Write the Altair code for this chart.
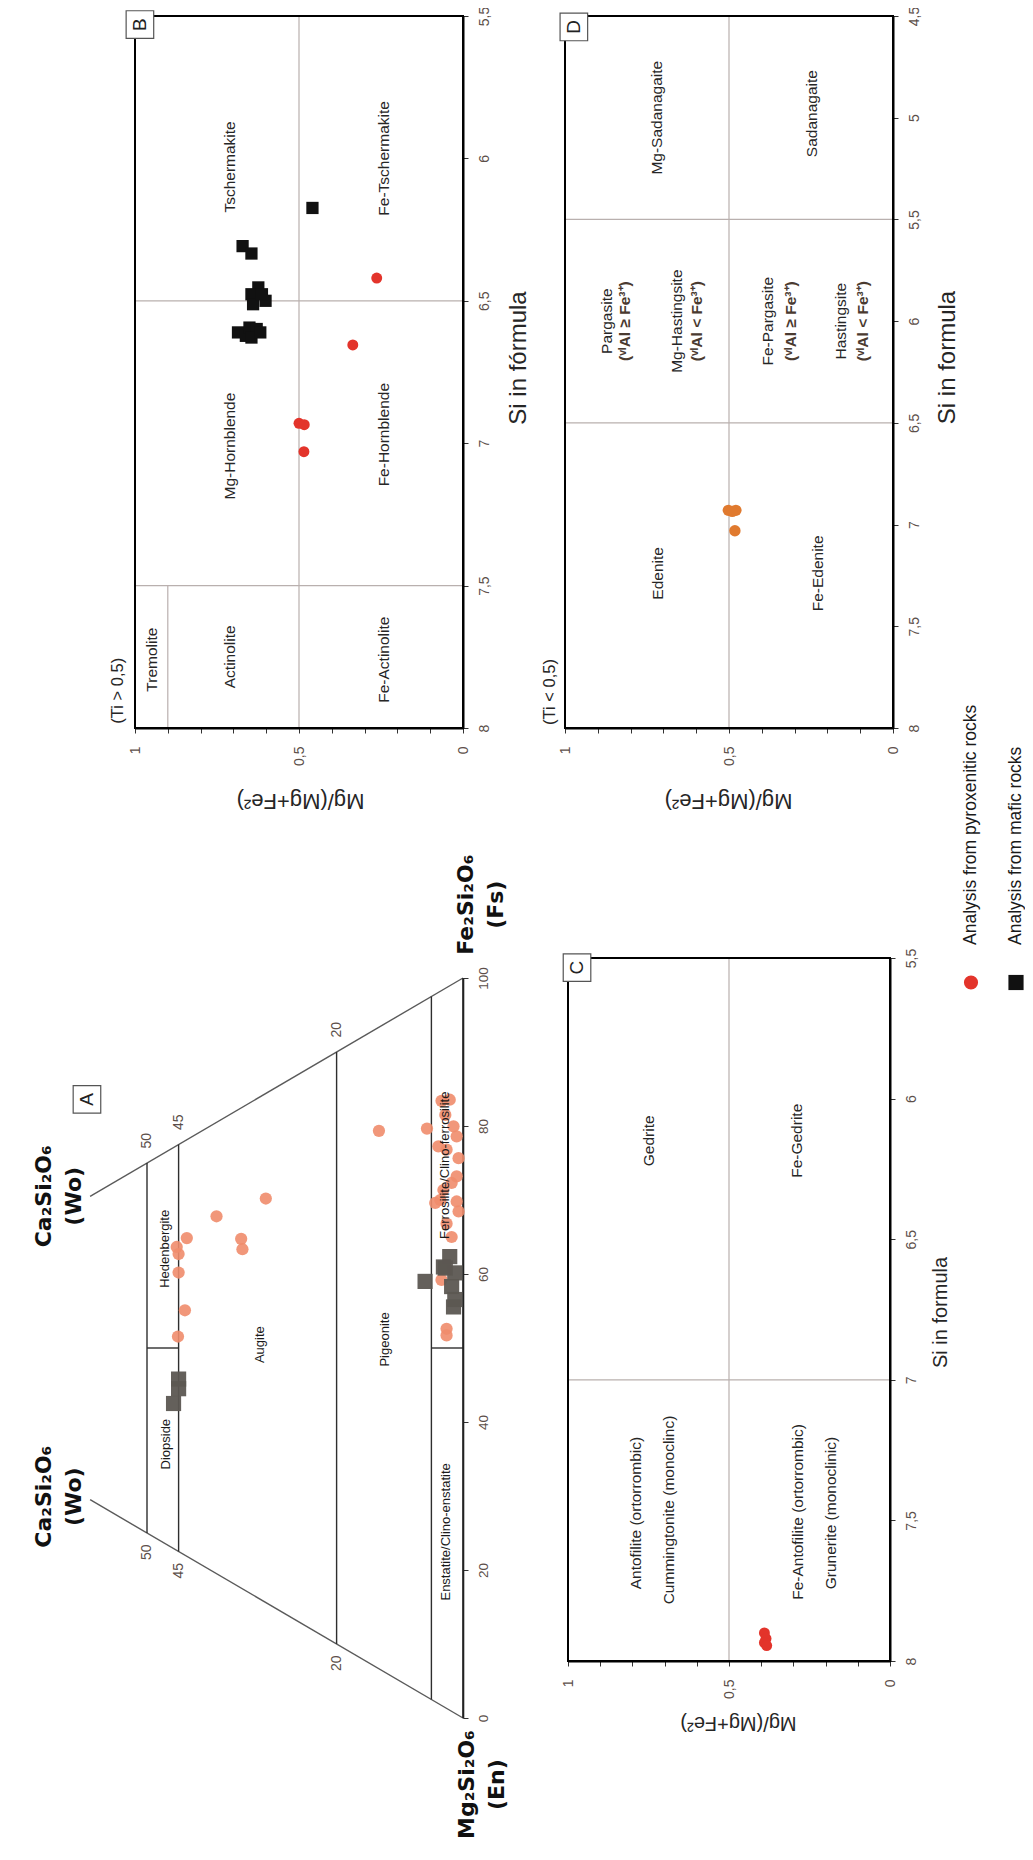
import altair as alt
import pandas as pd

W, H = 1017, 1836
FONT = "Liberation Sans"
INK = "#262626"
TICK_INK = "#5c4f4a"
GRID = "#b9b0ae"
RED = "#e3342b"
BLACK = "#111111"
SALMON = "#f08c6c"
GREY_SQ = "#5c5752"
ORANGE = "#e07a2f"

MG_TICKS = [0, 0.1, 0.2, 0.3, 0.4, 0.5, 0.6, 0.7, 0.8, 0.9, 1]

# ---------------- Panel B (Ti > 0,5) ----------------
b_si_ticks = [5.5, 6, 6.5, 7, 7.5, 8]
b_maf_mg = [0.459, 0.672, 0.645, 0.624, 0.645, 0.602, 0.640, 0.613, 0.686, 0.662, 0.651, 0.629, 0.645, 0.618]
b_maf_si = [6.174, 6.308, 6.334, 6.453, 6.477, 6.500, 6.512, 6.477, 6.611, 6.623, 6.594, 6.599, 6.629, 6.611]
b_pyr_mg = [0.263, 0.336, 0.50, 0.484, 0.485]
b_pyr_si = [6.42, 6.655, 6.93, 6.935, 7.03]
b_line_mg1 = [0.5, 1, 1, 0.9]
b_line_mg2 = [0.5, 0, 0, 0.9]
b_line_si1 = [5.5, 6.5, 7.5, 7.5]
b_line_si2 = [8, 6.5, 7.5, 8]
b_names = ["Tschermakite", "Fe-Tschermakite", "Mg-Hornblende", "Fe-Hornblende",
           "Tremolite", "Actinolite", "Fe-Actinolite"]
b_name_mg = [0.71, 0.24, 0.71, 0.24, 0.949, 0.71, 0.24]
b_name_si = [6.03, 6.00, 7.01, 6.97, 7.76, 7.75, 7.76]

# ---------------- Panel D (Ti < 0,5) ----------------
d_si_ticks = [4.5, 5, 5.5, 6, 6.5, 7, 7.5, 8]
d_pyr_mg = [0.502, 0.479, 0.490, 0.482]
d_pyr_si = [6.93, 6.93, 6.935, 7.03]
d_line_mg1 = [0.5, 1, 1]
d_line_mg2 = [0.5, 0, 0]
d_line_si1 = [4.5, 5.5, 6.5]
d_line_si2 = [8, 5.5, 6.5]
d_names = ["Mg-Sadanagaite", "Sadanagaite", "Pargasite", "Mg-Hastingsite",
           "Fe-Pargasite", "Hastingsite", "Edenite", "Fe-Edenite"]
d_name_mg = [0.72, 0.247, 0.873, 0.659, 0.380, 0.159, 0.716, 0.229]
d_name_si = [5.00, 4.98, 6.00, 6.00, 6.00, 6.00, 7.24, 7.24]
d_cond = ["(ᵛᴵAl ≥ Fe³⁺)", "(ᵛᴵAl < Fe³⁺)", "(ᵛᴵAl ≥ Fe³⁺)", "(ᵛᴵAl < Fe³⁺)"]
d_cond_mg = [0.817, 0.598, 0.312, 0.091]
d_cond_si = [6.00, 6.00, 6.00, 6.00]

# ---------------- Panel C ----------------
c_si_ticks = [5.5, 6, 6.5, 7, 7.5, 8]
c_pyr_mg = [0.390, 0.385, 0.390, 0.383]
c_pyr_si = [7.90, 7.92, 7.935, 7.945]
c_line_mg1 = [0.5, 1]
c_line_mg2 = [0.5, 0]
c_line_si1 = [5.5, 7]
c_line_si2 = [8, 7]
c_names = ["Gedrite", "Fe-Gedrite", "Antofilite (ortorrombic)", "Cummingtonite (monoclinc)",
           "Fe-Antofilite (ortorrombic)", "Grunerite (monoclinic)"]
c_name_mg = [0.748, 0.289, 0.789, 0.686, 0.286, 0.183]
c_name_si = [6.15, 6.15, 7.474, 7.463, 7.47, 7.474]

# ---------------- Panel A (pyroxene quadrilateral, Wo-En-Fs %) ----------------
a_pyr_wo = [31.2, 39.0, 35.1, 34.9, 43.7, 45.3, 45.0, 45.0, 44.0, 45.1, 13.3, 5.7, 3.4, 2.1, 2.8, 1.5,
            1.0, 3.9, 2.6, 0.7, 1.8, 3.1, 3.6, 1.0, 0.7, 2.6, 1.8, 3.4, 2.6, 2.6, 1.0, 4.4]
a_pyr_fs = [54.6, 48.3, 47.2, 45.9, 43.0, 41.0, 40.2, 37.7, 33.1, 29.0, 72.7, 76.8, 81.7, 82.5, 80.1, 79.2,
            78.1, 75.3, 75.5, 75.3, 71.4, 69.8, 68.2, 69.3, 68.1, 65.5, 64.1, 57.5, 51.3, 50.4, 72.7, 67.4]
a_maf_wo = [45.0, 45.0, 45.8, 6.0, 2.1, 2.8, 1.3, 1.8, 1.3, 1.5, 3.1]
a_maf_fs = [23.3, 22.0, 19.6, 56.0, 61.3, 59.4, 59.5, 57.4, 55.9, 54.8, 59.4]
a_fs_ticks = [0, 20, 40, 60, 80, 100]
a_edge_wo1 = [0, 0]
a_edge_fs1 = [0, 100]
a_edge_wo2 = [59, 59]
a_edge_fs2 = [0, 41]
a_tie_wo1 = [50, 45, 20, 5, 45, 0]
a_tie_fs1 = [0, 0, 0, 0, 27.5, 50]
a_tie_wo2 = [50, 45, 20, 5, 50, 5]
a_tie_fs2 = [50, 55, 80, 95, 25, 47.5]
a_wo_marks = [50, 45, 20, 50, 45, 20]
a_wo_side = [0, 0, 0, 1, 1, 1]
a_names = ["Hedenbergite", "Diopside", "Augite", "Pigeonite",
           "Enstatite/Clino-enstatite", "Ferrosilite/Clino-ferrosilite"]
a_name_wo = [47.2, 47.0, 32.1, 12.3, 2.7, 2.8]
a_name_fs = [39.8, 13.5, 34.4, 45.0, 23.8, 73.3]
a_corner = ["Ca₂Si₂O₆\n(Wo)", "Ca₂Si₂O₆\n(Wo)", "Mg₂Si₂O₆\n(En)", "Fe₂Si₂O₆\n(Fs)"]
a_corner_wo = [66.3, 66.3, -0.6, -0.5]
a_corner_u = [70.5, 29.9, -9.0, 109.9]

# ---------------- Panel letters & legend ----------------
legend_text = ["Analysis from pyroxenitic rocks", "Analysis from mafic rocks"]
legend_pos = [0, 1]


def lin(domain, rng):
    return alt.Scale(domain=domain, range=rng, zero=False, nice=False)


# pixel ranges of each panel inside the chart area
BX, BY = lin([0, 1], [455, 127]), lin([5.5, 8], [8, 720])
DX, DY = lin([0, 1], [885, 557]), lin([4.5, 8], [8, 720])
CX, CY = lin([0, 1], [882, 560]), lin([5.5, 8], [950, 1653])
AX, AY = lin([0, 100], [455, -177]), lin([0, 100], [1710, 970])
LX, LY = lin([0, 1], [963, 1008]), lin([0, 1], [974.5, 937])


def mg_axis(offset, tx, ty, tsize):
    return alt.Axis(
        orient="bottom", offset=offset, values=MG_TICKS, grid=False,
        labelExpr="datum.value == 0 ? '0' : abs(datum.value - 0.5) < 0.001 ? '0,5' : abs(datum.value - 1) < 0.001 ? '1' : ''",
        labelAngle=270, labelAlign="right", labelBaseline="middle", labelPadding=13,
        labelFont=FONT, labelFontSize=14, labelColor=TICK_INK, labelOverlap=False, labelFlush=False,
        tickSize=5, tickColor="#333333", tickWidth=1, domainColor="black", domainWidth=2,
        title="Mg/(Mg+Fe²)", titleAngle=180, titleX=tx, titleY=ty, titleAlign="center",
        titleBaseline="middle", titleFont=FONT, titleFontSize=tsize, titleFontWeight="normal",
        titleColor=INK)


def si_axis(values, offset, title, tx, ty, tsize):
    return alt.Axis(
        orient="right", offset=offset, values=values, grid=False,
        labelExpr="replace(format(datum.value, '.1~f'), '.', ',')",
        labelAngle=270, labelAlign="center", labelBaseline="top", labelPadding=9,
        labelFont=FONT, labelFontSize=14, labelColor=TICK_INK, labelOverlap=False, labelFlush=False,
        tickSize=5, tickColor="#333333", tickWidth=1, domainColor="black", domainWidth=2,
        title=title, titleAngle=270, titleX=tx, titleY=ty, titleAlign="center",
        titleBaseline="middle", titleFont=FONT, titleFontSize=tsize, titleFontWeight="normal",
        titleColor=INK)


def rules(df, sx, sy, color, width):
    return alt.Chart(df).mark_rule(color=color, strokeWidth=width).encode(
        x=alt.X("x1:Q", scale=sx, axis=None), x2="x2:Q",
        y=alt.Y("y1:Q", scale=sy, axis=None), y2="y2:Q")


def frame(sx, sy, xd, yd, xaxis, yaxis):
    df = pd.DataFrame({"x1": [xd[0]], "x2": [xd[1]], "y1": [yd[0]], "y2": [yd[1]]})
    return alt.Chart(df).mark_rect(fillOpacity=0, stroke="black", strokeWidth=2).encode(
        x=alt.X("x1:Q", scale=sx, axis=xaxis), x2="x2:Q",
        y=alt.Y("y1:Q", scale=sy, axis=yaxis), y2="y2:Q")


def pts(df, xf, yf, sx, sy, shape, color, size, opacity=1.0):
    return alt.Chart(df).mark_point(shape=shape, filled=True, color=color, size=size,
                                    opacity=opacity, strokeWidth=0).encode(
        x=alt.X(f"{xf}:Q", scale=sx, axis=None), y=alt.Y(f"{yf}:Q", scale=sy, axis=None))


def texts(df, xf, yf, sx, sy, size, color=INK, weight="normal", align="center",
          font=FONT, line_break=None):
    mk = dict(angle=270, align=align, baseline="middle", font=font, fontSize=size,
              color=color, fontWeight=weight)
    if line_break:
        mk["lineBreak"] = line_break
    return alt.Chart(df).mark_text(**mk).encode(
        x=alt.X(f"{xf}:Q", scale=sx, axis=None), y=alt.Y(f"{yf}:Q", scale=sy, axis=None),
        text="t:N")


def letter_box(letter, xv, yv, sx, sy):
    df = pd.DataFrame({"t": [letter], "x": [xv], "y": [yv]})
    box = alt.Chart(df).mark_point(shape="square", filled=True, fill="white", stroke="#555555",
                                   strokeWidth=1.2, size=760, opacity=1).encode(
        x=alt.X("x:Q", scale=sx, axis=None), y=alt.Y("y:Q", scale=sy, axis=None))
    return [box, texts(df, "x", "y", sx, sy, 19, color="#222222")]


layers = []

# ===== Panel B =====
layers.append(rules(pd.DataFrame({"x1": b_line_mg1, "x2": b_line_mg2, "y1": b_line_si1, "y2": b_line_si2}),
                    BX, BY, GRID, 1.2))
layers.append(frame(BX, BY, [1, 0], [5.5, 8],
                    mg_axis(-1116, 292, 72, 22),
                    si_axis(b_si_ticks, -562, "Si in fórmula", 55, 349.5, 24)))
layers.append(pts(pd.DataFrame({"mg": b_maf_mg, "si": b_maf_si}), "mg", "si", BX, BY, "square", BLACK, 150))
layers.append(pts(pd.DataFrame({"mg": b_pyr_mg, "si": b_pyr_si}), "mg", "si", BX, BY, "circle", RED, 120))
layers.append(texts(pd.DataFrame({"t": b_names, "mg": b_name_mg, "si": b_name_si}), "mg", "si", BX, BY, 15.5))
layers.append(texts(pd.DataFrame({"t": ["(Ti > 0,5)"], "mg": [1.052], "si": [7.985]}), "mg", "si", BX, BY,
                    16.5, align="left"))
layers += letter_box("B", 0.985, 5.53, BX, BY)

# ===== Panel D =====
layers.append(rules(pd.DataFrame({"x1": d_line_mg1, "x2": d_line_mg2, "y1": d_line_si1, "y2": d_line_si2}),
                    DX, DY, GRID, 1.2))
layers.append(frame(DX, DY, [1, 0], [4.5, 8],
                    mg_axis(-1116, 720, 72, 22),
                    si_axis(d_si_ticks, -132, "Si in formula", 54, 349, 24)))
layers.append(pts(pd.DataFrame({"mg": d_pyr_mg, "si": d_pyr_si}), "mg", "si", DX, DY, "circle", ORANGE, 130))
layers.append(texts(pd.DataFrame({"t": d_names, "mg": d_name_mg, "si": d_name_si}), "mg", "si", DX, DY, 15.5))
layers.append(texts(pd.DataFrame({"t": d_cond, "mg": d_cond_mg, "si": d_cond_si}), "mg", "si", DX, DY, 15.5,
                    color="#4a3a30", weight="bold"))
layers.append(texts(pd.DataFrame({"t": ["(Ti < 0,5)"], "mg": [1.046], "si": [7.985]}), "mg", "si", DX, DY,
                    16.5, align="left"))
layers += letter_box("D", 0.973, 4.554, DX, DY)

# ===== Panel C =====
layers.append(rules(pd.DataFrame({"x1": c_line_mg1, "x2": c_line_mg2, "y1": c_line_si1, "y2": c_line_si2}),
                    CX, CY, GRID, 1.2))
layers.append(frame(CX, CY, [1, 0], [5.5, 8],
                    mg_axis(-183, 730, 61, 20),
                    si_axis(c_si_ticks, -135, "Si in formula", 50, 1304, 20)))
layers.append(pts(pd.DataFrame({"mg": c_pyr_mg, "si": c_pyr_si}), "mg", "si", CX, CY, "circle", RED, 120))
layers.append(texts(pd.DataFrame({"t": c_names, "mg": c_name_mg, "si": c_name_si}), "mg", "si", CX, CY, 15.5))
layers += letter_box("C", 0.972, 5.534, CX, CY)

# ===== Panel A (ternary) =====
edge_df = pd.DataFrame({"wo1": a_edge_wo1, "fs1": a_edge_fs1, "wo2": a_edge_wo2, "fs2": a_edge_fs2})
tie_df = pd.DataFrame({"wo1": a_tie_wo1, "fs1": a_tie_fs1, "wo2": a_tie_wo2, "fs2": a_tie_fs2})


def tern_rules(df, color, width):
    return alt.Chart(df).transform_calculate(
        u1="datum.fs1 + datum.wo1 / 2", u2="datum.fs2 + datum.wo2 / 2"
    ).mark_rule(color=color, strokeWidth=width).encode(
        x=alt.X("wo1:Q", scale=AX, axis=None), x2="wo2:Q",
        y=alt.Y("u1:Q", scale=AY, axis=None), y2="u2:Q")


layers.append(tern_rules(edge_df, "#5a5a5a", 1.4))
layers.append(tern_rules(tie_df, "#2e2e2e", 1.4))

fs_axis = alt.Axis(
    orient="right", offset=-562, values=a_fs_ticks, grid=False, labelAngle=270,
    labelAlign="center", labelBaseline="top", labelPadding=8, labelFont=FONT, labelFontSize=13.5,
    labelColor=TICK_INK, labelOverlap=False, labelFlush=False, tickSize=5, tickColor="#333333",
    domainColor="#222222", domainWidth=1.6, title=None)
layers.append(alt.Chart(pd.DataFrame({"wo": [0, 0], "u": [0, 100]})).mark_line(
    color="#222222", strokeWidth=1.6).encode(
    x=alt.X("wo:Q", scale=AX, axis=None), y=alt.Y("u:Q", scale=AY, axis=fs_axis)))

layers.append(alt.Chart(pd.DataFrame({"wo": a_pyr_wo, "fs": a_pyr_fs})).transform_calculate(
    u="datum.fs + datum.wo / 2").mark_point(shape="circle", filled=True, color=SALMON, size=150,
                                            opacity=0.9, strokeWidth=0).encode(
    x=alt.X("wo:Q", scale=AX, axis=None), y=alt.Y("u:Q", scale=AY, axis=None)))
layers.append(alt.Chart(pd.DataFrame({"wo": a_maf_wo, "fs": a_maf_fs})).transform_calculate(
    u="datum.fs + datum.wo / 2").mark_point(shape="square", filled=True, color=GREY_SQ, size=230,
                                            opacity=0.95, strokeWidth=0).encode(
    x=alt.X("wo:Q", scale=AX, axis=None), y=alt.Y("u:Q", scale=AY, axis=None)))

layers.append(alt.Chart(pd.DataFrame({"t": a_names, "wo": a_name_wo, "fs": a_name_fs})).transform_calculate(
    u="datum.fs + datum.wo / 2").mark_text(angle=270, align="center", baseline="middle", font=FONT,
                                           fontSize=13, color="#1a1a1a").encode(
    x=alt.X("wo:Q", scale=AX, axis=None), y=alt.Y("u:Q", scale=AY, axis=None), text="t:N"))

layers.append(alt.Chart(pd.DataFrame({"wo": a_wo_marks, "side": a_wo_side})).transform_calculate(
    u="datum.side == 0 ? datum.wo / 2 - 2.6 : 100 - datum.wo / 2 + 3.0",
    t="format(datum.wo, 'd')").mark_text(angle=270, align="center", baseline="middle", font=FONT,
                                         fontSize=14, color=TICK_INK).encode(
    x=alt.X("wo:Q", scale=AX, axis=None), y=alt.Y("u:Q", scale=AY, axis=None), text="t:N"))

layers.append(alt.Chart(pd.DataFrame({"t": a_corner, "wo": a_corner_wo, "u": a_corner_u})).mark_text(
    angle=270, align="center", baseline="middle", font="DejaVu Sans", fontSize=22, fontWeight="bold",
    color="#111111", lineBreak="\n", lineHeight=30).encode(
    x=alt.X("wo:Q", scale=AX, axis=None), y=alt.Y("u:Q", scale=AY, axis=None), text="t:N"))

layers += letter_box("A", 59.5, 83.6, AX, AY)

# ===== Legend =====
layers.append(alt.Chart(pd.DataFrame({"p": [legend_pos[0]], "q": [0]})).mark_point(
    shape="circle", filled=True, color=RED, size=200, opacity=1, strokeWidth=0).encode(
    x=alt.X("p:Q", scale=LX, axis=None), y=alt.Y("q:Q", scale=LY, axis=None)))
layers.append(alt.Chart(pd.DataFrame({"p": [legend_pos[1]], "q": [0]})).mark_point(
    shape="square", filled=True, color=BLACK, size=230, opacity=1, strokeWidth=0).encode(
    x=alt.X("p:Q", scale=LX, axis=None), y=alt.Y("q:Q", scale=LY, axis=None)))
layers.append(alt.Chart(pd.DataFrame({"t": legend_text, "p": legend_pos, "q": [1, 1]})).mark_text(
    angle=270, align="left", baseline="middle", font=FONT, fontSize=17.5, color="#1a1a1a").encode(
    x=alt.X("p:Q", scale=LX, axis=None), y=alt.Y("q:Q", scale=LY, axis=None), text="t:N"))

chart = alt.layer(*layers).resolve_scale(x="independent", y="independent").properties(
    width=W, height=H, autosize=alt.AutoSizeParams(type="none"), padding=0
).configure_view(strokeWidth=0)

chart.save("out.html", embed_options={"renderer": "svg", "actions": False})
